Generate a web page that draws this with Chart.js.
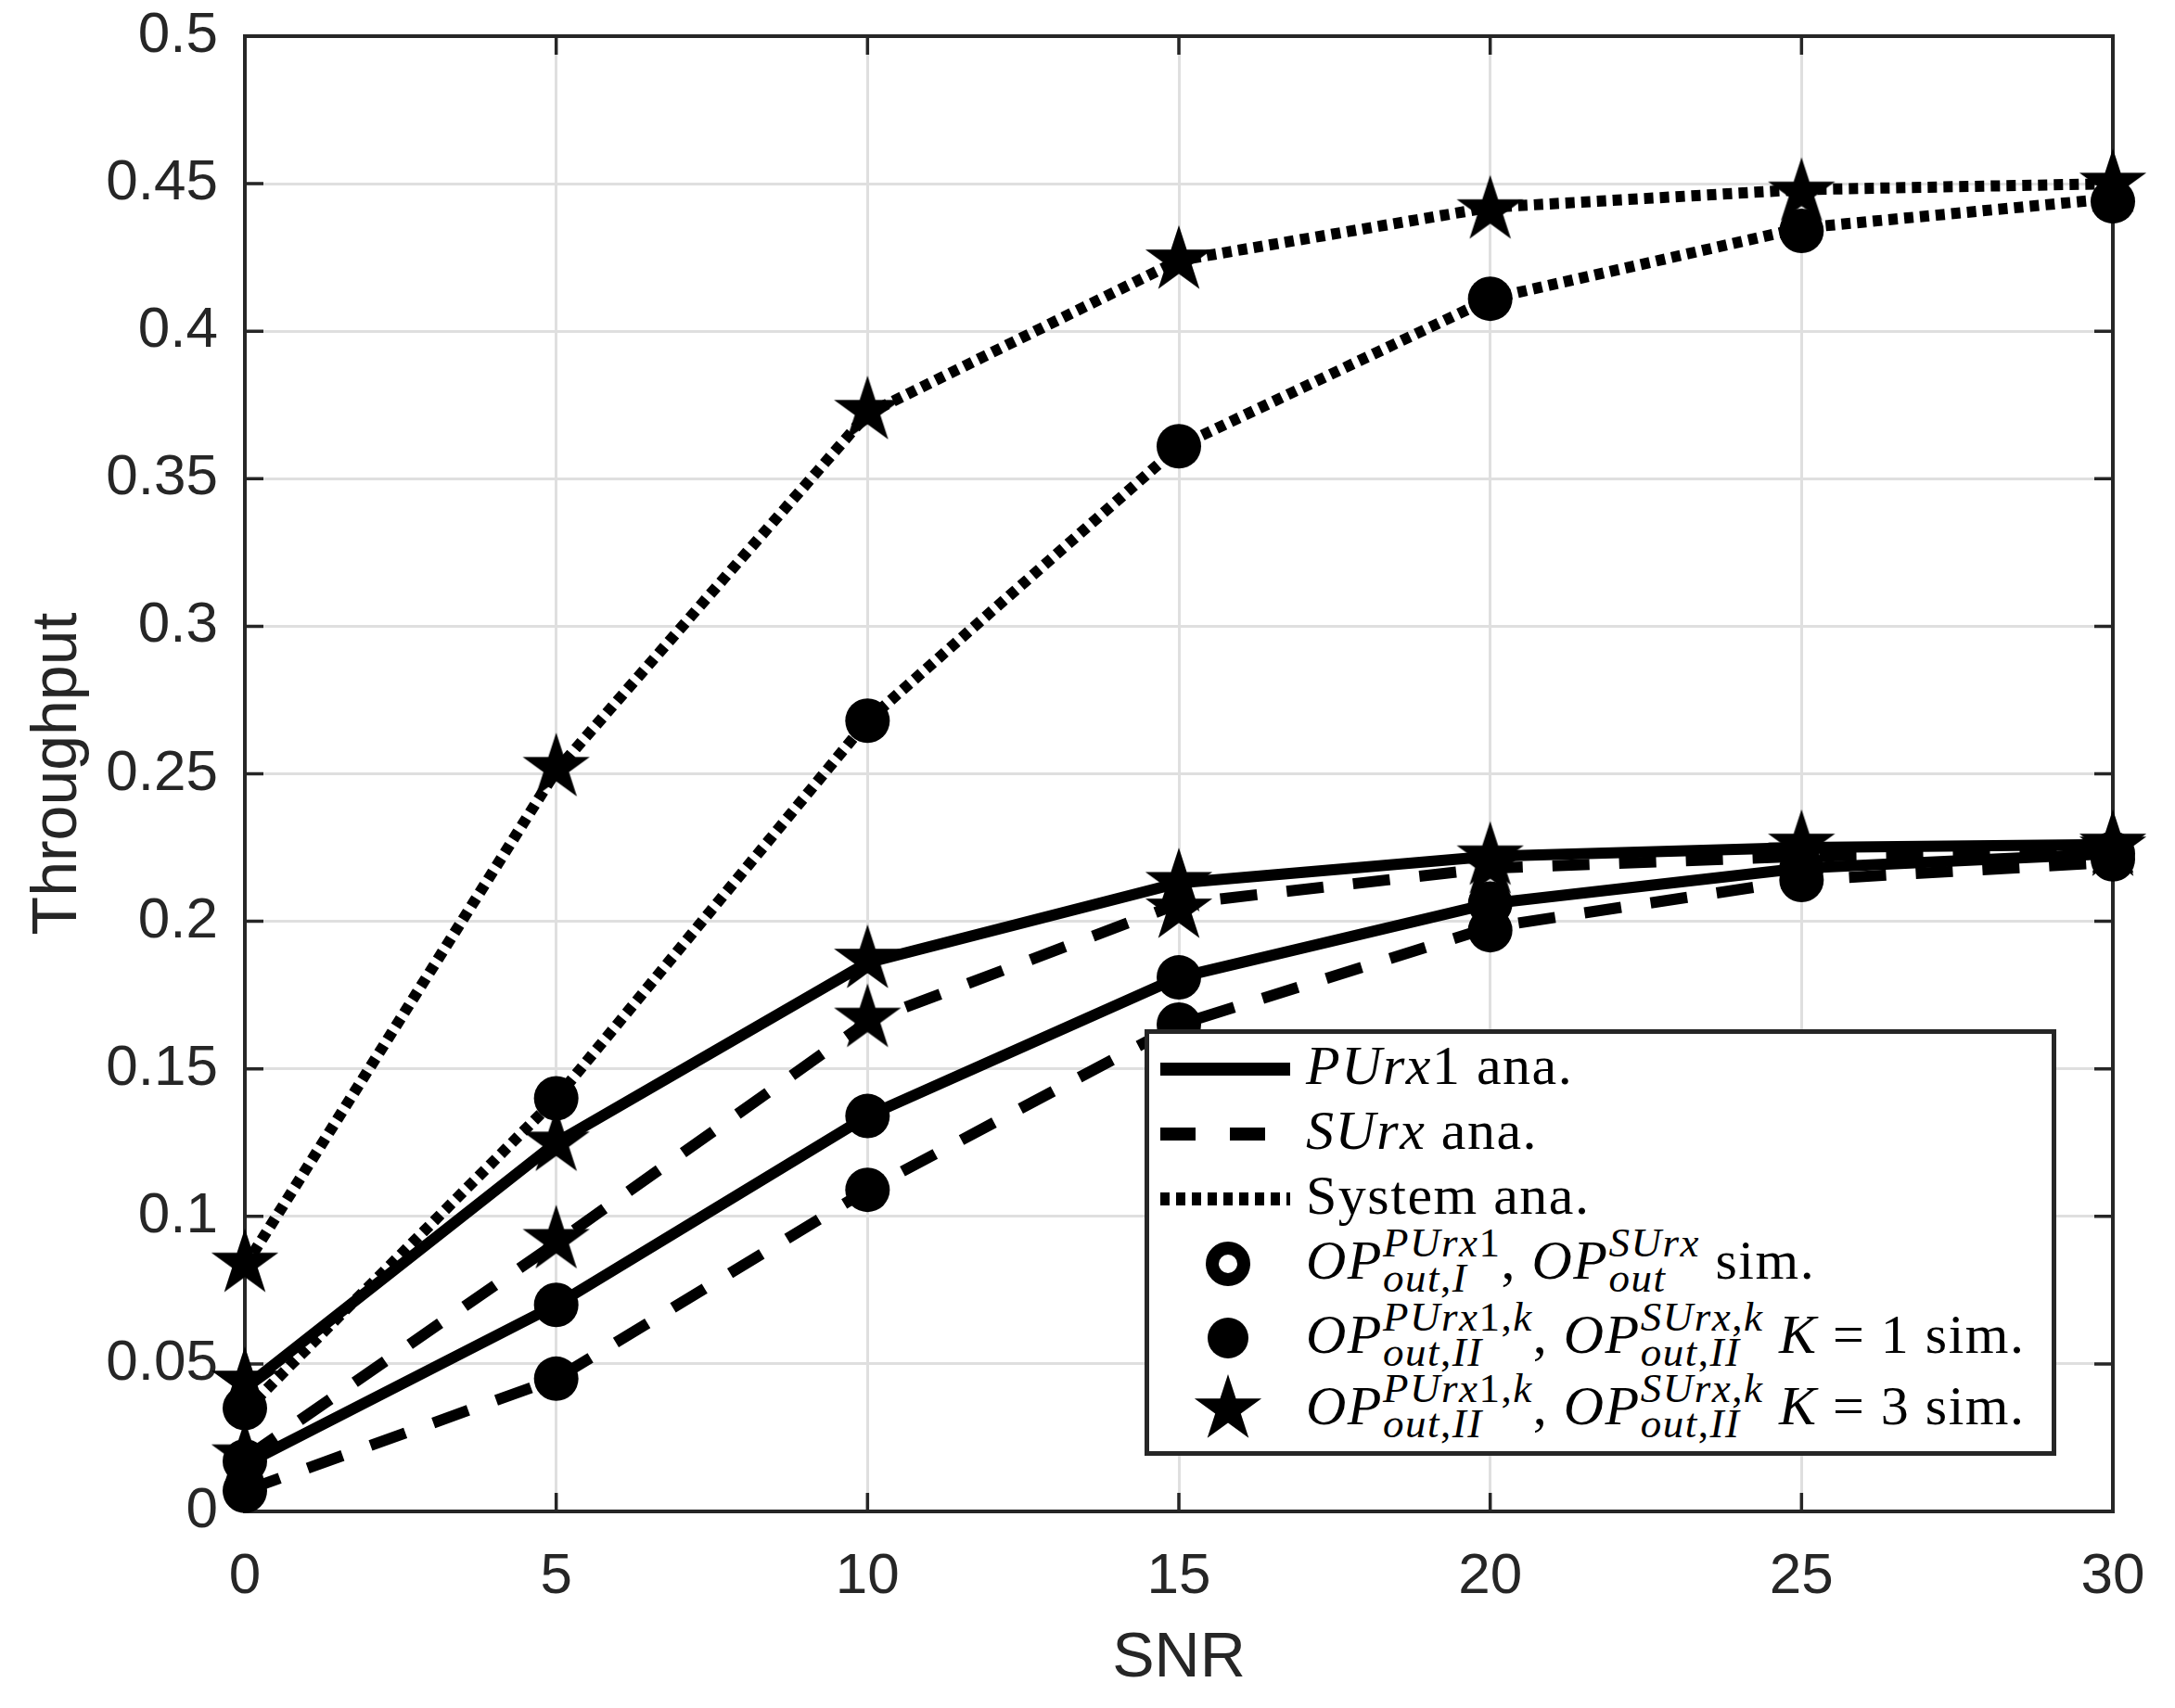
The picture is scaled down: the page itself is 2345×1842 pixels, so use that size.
<!DOCTYPE html>
<html>
<head>
<meta charset="utf-8">
<title>Throughput vs SNR</title>
<script src="https://cdn.jsdelivr.net/npm/chart.js@4.4.1/dist/chart.umd.min.js"></script>
<style>
  html, body { margin: 0; padding: 0; background: #fff; }
  #wrap { position: relative; width: 2345px; height: 1842px; }
  #chart { display: block; width: 2345px; height: 1842px; }

  #legend {
    position: absolute; left: 1234px; top: 1110px;
    width: 973px; height: 450px;
    border: 5px solid #262626; background: #fff;
    font-family: "Liberation Serif", "Times New Roman", serif;
    font-size: 60px; color: #000;
  }
  .row { position: absolute; left: 0; height: 80px; display: flex; align-items: center; white-space: nowrap; }
  .smp { position: relative; flex: none; width: 140px; height: 80px; margin-left: 12px; }
  .txt { margin-left: 17px; position: relative; top: -4px; letter-spacing: 1.5px; }
  .ln { position: absolute; top: 33px; height: 14px; background: #000; }
  .dots { background: repeating-linear-gradient(to right, #000 0 10px, transparent 10px 17px); }
  .ring { position: absolute; left: 49px; top: 16px; width: 48px; height: 48px; box-sizing: border-box;
          border: 14px solid #000; border-radius: 50%; }
  .disc { position: absolute; left: 51px; top: 18px; width: 44px; height: 44px; background: #000; border-radius: 50%; }
  .smp canvas { position: absolute; left: 33px; top: 0; }
  .ss { display: inline-flex; flex-direction: column; justify-content: center; height: 0.5em;
        vertical-align: middle; position: relative; top: -6px; font-size: 45px; line-height: 38px; }
</style>
</head>
<body>
<div id="wrap">
  <canvas id="chart" width="2345" height="1842"></canvas>
  <div id="legend">
    <div class="row" style="top:-2px"><div class="smp"><div class="ln" style="left:0;width:140px"></div></div>
      <span class="txt"><i>PUrx</i>1 ana.</span></div>
    <div class="row" style="top:68px"><div class="smp"><div class="ln" style="left:0;width:38px"></div><div class="ln" style="left:75px;width:38px"></div></div>
      <span class="txt"><i>SUrx</i> ana.</span></div>
    <div class="row" style="top:138px"><div class="smp"><div class="ln dots" style="left:0;width:140px"></div></div>
      <span class="txt">System ana.</span></div>
    <div class="row" style="top:208px"><div class="smp"><div class="ring"></div></div>
      <span class="txt"><i>OP</i><span class="ss"><span><i>PUrx</i>1</span><span><i>out</i>,<i>I</i></span></span>, <i>OP</i><span class="ss"><span><i>SUrx</i></span><span><i>out</i></span></span> sim.</span></div>
    <div class="row" style="top:288px"><div class="smp"><div class="disc"></div></div>
      <span class="txt"><i>OP</i><span class="ss"><span><i>PUrx</i>1,<i>k</i></span><span><i>out</i>,<i>II</i></span></span>, <i>OP</i><span class="ss"><span><i>SUrx</i>,<i>k</i></span><span><i>out</i>,<i>II</i></span></span> <i>K</i> = 1 sim.</span></div>
    <div class="row" style="top:365px"><div class="smp" id="starSample"></div>
      <span class="txt"><i>OP</i><span class="ss"><span><i>PUrx</i>1,<i>k</i></span><span><i>out</i>,<i>II</i></span></span>, <i>OP</i><span class="ss"><span><i>SUrx</i>,<i>k</i></span><span><i>out</i>,<i>II</i></span></span> <i>K</i> = 3 sim.</span></div>
  </div>
</div>
<script>
// x values (SNR) and axis ticks
const snr = [0, 5, 10, 15, 20, 25, 30];
const xTickValues = [0, 5, 10, 15, 20, 25, 30];
const xTickLabels = ["0", "5", "10", "15", "20", "25", "30"];
const yTickValues = [0, 0.05, 0.1, 0.15, 0.2, 0.25, 0.3, 0.35, 0.4, 0.45, 0.5];
const yTickLabels = ["0", "0.05", "0.1", "0.15", "0.2", "0.25", "0.3", "0.35", "0.4", "0.45", "0.5"];

// analytic curves
const puAnaK1  = [0.016, 0.070, 0.134, 0.181, 0.206, 0.218, 0.223];
const puAnaK3  = [0.042, 0.125, 0.186, 0.213, 0.222, 0.225, 0.226];
const suAnaK1  = [0.007, 0.045, 0.109, 0.165, 0.198, 0.214, 0.220];
const suAnaK3  = [0.018, 0.091, 0.166, 0.206, 0.218, 0.222, 0.224];
const sysAnaK1 = [0.034, 0.140, 0.268, 0.361, 0.411, 0.435, 0.445];
const sysAnaK3 = [0.083, 0.251, 0.372, 0.424, 0.442, 0.448, 0.450];

// simulation points (K = 1 -> circles, K = 3 -> stars)
const puSimK1  = [0.017, 0.070, 0.134, 0.181, 0.206, 0.218, 0.223];
const suSimK1  = [0.007, 0.045, 0.109, 0.165, 0.197, 0.214, 0.221];
const sysSimK1 = [0.035, 0.140, 0.268, 0.361, 0.411, 0.434, 0.444];
const puSimK3  = [0.044, 0.125, 0.187, 0.213, 0.222, 0.226, 0.226];
const suSimK3  = [0.019, 0.092, 0.167, 0.204, 0.219, 0.223, 0.225];
const sysSimK3 = [0.084, 0.252, 0.373, 0.424, 0.441, 0.447, 0.450];

const AX = "#262626";
const SANS = '"Liberation Sans", Arial, Helvetica, sans-serif';

function makeStar(R) {
  const c = document.createElement("canvas");
  const s = Math.ceil(R * 2 + 4);
  c.width = c.height = s;
  const g = c.getContext("2d");
  g.translate(s / 2, s / 2);
  g.beginPath();
  for (let i = 0; i < 10; i++) {
    const r = i % 2 ? R * 0.382 : R;
    const a = -Math.PI / 2 + i * Math.PI / 5;
    g.lineTo(r * Math.cos(a), r * Math.sin(a));
  }
  g.closePath();
  g.fillStyle = "#000";
  g.fill();
  return c;
}
const starImg = makeStar(38);
document.getElementById("starSample").appendChild(makeStar(38));

const pts = ys => snr.map((x, i) => ({ x: x, y: ys[i] }));

function line(ys, dash) {
  return { data: pts(ys), showLine: true, borderColor: "#000", borderWidth: 12,
           borderDash: dash, borderCapStyle: "butt", pointRadius: 0, clip: false };
}
function circles(ys) {
  return { data: pts(ys), showLine: false, pointStyle: "circle", pointRadius: 24,
           backgroundColor: "#000", borderWidth: 0, clip: false };
}
function stars(ys) {
  return { data: pts(ys), showLine: false, pointStyle: starImg, pointRadius: 30, clip: false };
}

// box and inward ticks on all four sides
const frame = {
  id: "frame",
  beforeDatasetsDraw(chart) {
    const { ctx, chartArea: a, scales: { x, y } } = chart;
    ctx.save();
    ctx.strokeStyle = AX;
    ctx.lineWidth = 3.5;
    ctx.beginPath();
    xTickValues.forEach(v => {
      const px = x.getPixelForValue(v);
      ctx.moveTo(px, a.bottom); ctx.lineTo(px, a.bottom - 20);
      ctx.moveTo(px, a.top); ctx.lineTo(px, a.top + 20);
    });
    yTickValues.forEach(v => {
      const py = y.getPixelForValue(v);
      ctx.moveTo(a.left, py); ctx.lineTo(a.left + 20, py);
      ctx.moveTo(a.right, py); ctx.lineTo(a.right - 20, py);
    });
    ctx.stroke();
    ctx.lineWidth = 4;
    ctx.strokeRect(a.left, a.top, a.right - a.left, a.bottom - a.top);
    ctx.restore();
  }
};

new Chart(document.getElementById("chart"), {
  type: "scatter",
  data: {
    datasets: [
      line(puAnaK1, []), line(puAnaK3, []),
      line(suAnaK1, [40, 32]), line(suAnaK3, [40, 32]),
      line(sysAnaK1, [10, 7]), line(sysAnaK3, [10, 7]),
      circles(puSimK1), circles(suSimK1), circles(sysSimK1),
      stars(puSimK3), stars(suSimK3), stars(sysSimK3)
    ]
  },
  options: {
    responsive: false,
    devicePixelRatio: 1,
    animation: false,
    events: [],
    layout: { padding: { top: 39, right: 67, left: 0, bottom: 0 } },
    plugins: { legend: { display: false }, tooltip: { enabled: false } },
    scales: {
      x: {
        type: "linear", min: 0, max: 30,
        afterBuildTicks: s => { s.ticks = xTickValues.map(v => ({ value: v })); },
        afterFit: s => { s.height = 212; s.paddingLeft = 0; s.paddingRight = 0; },
        grid: { color: "#dfdfdf", lineWidth: 3, drawTicks: false },
        border: { display: false },
        ticks: { padding: 34, color: AX, font: { family: SANS, size: 62 },
                 callback: (v, i) => xTickLabels[i], maxRotation: 0 },
        title: { display: true, text: "SNR", color: AX, font: { family: SANS, size: 68 },
                 padding: { top: 0, bottom: 12 } }
      },
      y: {
        type: "linear", min: 0, max: 0.5,
        afterBuildTicks: s => { s.ticks = yTickValues.map(v => ({ value: v })); },
        afterFit: s => { s.width = 264; s.paddingTop = 0; s.paddingBottom = 0; },
        grid: { color: "#dfdfdf", lineWidth: 3, drawTicks: false },
        border: { display: false },
        ticks: { padding: 29, color: AX, font: { family: SANS, size: 62 },
                 callback: (v, i) => yTickLabels[i] },
        title: { display: true, text: "Throughput", color: AX, font: { family: SANS, size: 68 },
                 padding: { top: 22, bottom: 0 } }
      }
    }
  },
  plugins: [frame]
});
</script>
</body>
</html>
